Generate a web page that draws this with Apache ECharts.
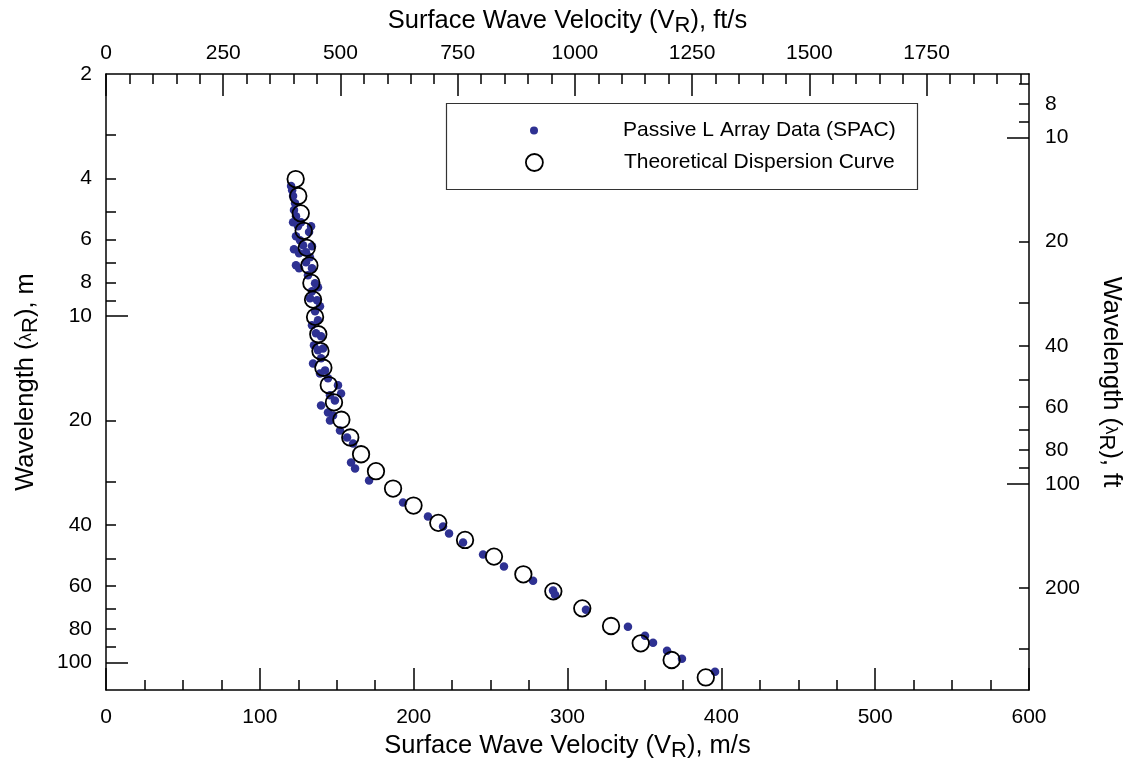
<!DOCTYPE html>
<html>
<head>
<meta charset="utf-8">
<script src="https://cdn.jsdelivr.net/npm/echarts@6/dist/echarts.min.js"></script>
<style>
  html, body { margin: 0; padding: 0; background: #fff; }
  #chart { width: 1133px; height: 759px; }
</style>
</head>
<body>
<div id="chart"></div>
<script>
// Theoretical dispersion curve: velocity (m/s) and wavelength (m)
const velocityTheory = [123.3, 125.0, 126.6, 128.5, 130.5, 132.2, 133.5, 134.6, 135.9, 138.0,
  139.4, 141.3, 144.8, 148.2, 153.0, 158.8, 165.8, 175.5, 186.6, 199.9,
  216.0, 233.4, 252.2, 271.3, 290.8, 309.6, 328.3, 347.6, 367.7, 389.9];
const wavelengthTheory = [4.02, 4.50, 5.05, 5.67, 6.35, 7.14, 8.02, 8.96, 10.05, 11.28,
  12.61, 14.09, 15.81, 17.74, 19.91, 22.40, 25.04, 28.03, 31.45, 35.22,
  39.51, 44.26, 49.45, 55.62, 62.29, 69.74, 78.43, 88.00, 98.31, 110.4];

// Passive L array (SPAC) measurements: velocity (m/s) and wavelength (m)
const velocitySpac = [120.3, 121.0, 121.6, 122.9, 122.2, 123.5, 121.6, 124.8, 126.8, 133.3,
  132.0, 123.5, 126.1, 128.1, 122.2, 125.5, 130.0, 133.9, 132.6, 123.5,
  125.5, 130.0, 133.9, 131.3, 135.9, 133.9, 137.8, 132.6, 137.2, 139.1,
  135.9, 137.8, 133.9, 136.5, 139.8, 135.2, 137.8, 141.1, 134.6, 139.1,
  142.4, 139.8, 144.3, 150.8, 152.8, 145.6, 148.8, 139.8, 144.3, 145.6,
  147.6, 152.1, 156.7, 160.6, 159.3, 161.9, 171.0, 193.1, 209.3, 219.1,
  223.0, 232.1, 245.1, 258.7, 277.6, 290.6, 291.9, 312.0, 339.3, 350.4,
  355.6, 364.7, 374.4, 395.9];
const wavelengthSpac = [4.21, 4.33, 4.50, 4.72, 4.94, 5.15, 5.36, 5.50, 5.36, 5.50,
  5.72, 5.88, 6.04, 6.24, 6.41, 6.58, 6.54, 6.28, 6.76, 7.13,
  7.27, 6.99, 7.27, 7.62, 8.04, 8.48, 8.25, 8.88, 9.00, 9.37,
  9.68, 10.28, 10.63, 11.21, 11.43, 12.14, 12.55, 12.39, 13.69, 14.63,
  14.34, 13.24, 15.12, 15.84, 16.71, 16.93, 17.51, 18.10, 18.96, 20.0,
  19.34, 21.38, 22.40, 23.31, 26.45, 27.52, 29.82, 34.51, 37.90, 40.50,
  42.42, 45.04, 48.79, 52.84, 58.01, 61.99, 63.69, 70.34, 78.78, 83.64,
  87.62, 92.40, 97.48, 106.3];

// Axis ranges and ticks
const FT_PER_M = 3.28084;
const velocityRange = [0, 600];            // m/s
const wavelengthRange = [2, 120];          // m
const topTickLabels = [0, 250, 500, 750, 1000, 1250, 1500, 1750];            // ft/s
const topMinorStep = 50;                                                      // ft/s
const leftTickLabels = [2, 4, 6, 8, 10, 20, 40, 60, 80, 100];                 // m
const leftMajorTicks = [10, 100];
const leftMinorTicks = [3, 4, 5, 6, 7, 8, 9, 20, 30, 40, 50, 60, 70, 80, 90];
const rightTickLabels = [8, 10, 20, 40, 60, 80, 100, 200];                    // ft
const rightMajorTicks = [10, 100];
const rightMinorTicks = [7, 8, 9, 20, 30, 40, 50, 60, 70, 80, 90, 200, 300];

const SERIES_SPAC = 'Passive L Array Data (SPAC)';
const SERIES_THEORY = 'Theoretical Dispersion Curve';

const FONT = '"Liberation Sans", Arial, Helvetica, sans-serif';
const black = '#000';
const lineStyle = { color: black, width: 1.5 };
const labelStyle = { color: black, fontSize: 21, fontFamily: FONT, formatter: v => String(Math.round(v)) };
const nameStyle = {
  color: black, fontSize: 25.5, fontFamily: FONT,
  rich: {
    sub: { color: black, fontSize: 22, fontFamily: FONT, padding: [10, 0, 0, 0] },
    lam: { color: black, fontSize: 17, fontFamily: FONT }
  }
};

const ftMax = velocityRange[1] * FT_PER_M;
const topMinorTicks = [];
for (let v = 0; v <= ftMax; v += topMinorStep) topMinorTicks.push(v);
const ftRange = [wavelengthRange[0] * FT_PER_M, wavelengthRange[1] * FT_PER_M];

const spacPoints = velocitySpac.map((v, i) => [v, wavelengthSpac[i]]);
const theoryPoints = velocityTheory.map((v, i) => [v, wavelengthTheory[i]]);

const hidden = { show: false };
const shownLine = { show: true, onZero: false, lineStyle };
const noLine = { show: false, onZero: false };

const chart = echarts.init(document.getElementById('chart'), null, { renderer: 'canvas' });
chart.setOption({
  animation: false,
  backgroundColor: '#fff',
  grid: { left: 106, right: 104, top: 74, bottom: 69, containLabel: false, outerBoundsMode: 'none' },
  xAxis: [
    {
      type: 'value', position: 'bottom', min: velocityRange[0], max: velocityRange[1], interval: 100,
      axisLine: shownLine,
      axisTick: { show: true, inside: true, length: 22, lineStyle },
      minorTick: { show: true, splitNumber: 4, length: 10, lineStyle },
      splitLine: hidden, minorSplitLine: hidden,
      axisLabel: Object.assign({ margin: 17 }, labelStyle),
      name: 'Surface Wave Velocity (V{sub|R}), m/s',
      nameLocation: 'middle', nameGap: 40, nameTextStyle: nameStyle
    },
    {
      type: 'value', position: 'top', min: 0, max: ftMax,
      axisLine: shownLine,
      axisTick: { show: true, inside: true, length: 22, lineStyle, customValues: topTickLabels },
      axisLabel: Object.assign({ margin: 10, customValues: topTickLabels }, labelStyle),
      splitLine: hidden,
      name: 'Surface Wave Velocity (V{sub|R}), ft/s',
      nameLocation: 'middle', nameGap: 37, nameTextStyle: nameStyle
    },
    {
      type: 'value', position: 'top', min: 0, max: ftMax,
      axisLine: noLine,
      axisTick: { show: true, inside: true, length: 10, lineStyle, customValues: topMinorTicks },
      axisLabel: hidden, splitLine: hidden
    }
  ],
  yAxis: [
    {
      type: 'log', logBase: 10, position: 'left', inverse: true,
      min: wavelengthRange[0], max: wavelengthRange[1],
      axisLine: shownLine,
      axisTick: { show: true, inside: true, length: 22, lineStyle, customValues: leftMajorTicks },
      axisLabel: Object.assign({ margin: 14, customValues: leftTickLabels }, labelStyle),
      splitLine: hidden,
      name: 'Wavelength ({lam|λ}{sub|R}), m',
      nameLocation: 'middle', nameRotate: 90, nameGap: 64, nameTextStyle: nameStyle
    },
    {
      type: 'log', logBase: 10, position: 'left', inverse: true,
      min: wavelengthRange[0], max: wavelengthRange[1],
      axisLine: noLine,
      axisTick: { show: true, inside: true, length: 10, lineStyle, customValues: leftMinorTicks },
      axisLabel: hidden, splitLine: hidden
    },
    {
      type: 'log', logBase: 10, position: 'right', inverse: true,
      min: ftRange[0], max: ftRange[1],
      axisLine: shownLine,
      axisTick: { show: true, inside: true, length: 22, lineStyle, customValues: rightMajorTicks },
      axisLabel: Object.assign({ margin: 16, customValues: rightTickLabels }, labelStyle),
      splitLine: hidden,
      name: 'Wavelength ({lam|λ}{sub|R}), ft',
      nameLocation: 'middle', nameRotate: -90, nameGap: 66, nameTextStyle: nameStyle
    },
    {
      type: 'log', logBase: 10, position: 'right', inverse: true,
      min: ftRange[0], max: ftRange[1],
      axisLine: noLine,
      axisTick: { show: true, inside: true, length: 10, lineStyle, customValues: rightMinorTicks },
      axisLabel: hidden, splitLine: hidden
    }
  ],
  legend: [
    {
      data: [SERIES_SPAC], selectedMode: false, orient: 'vertical',
      left: 530, top: 120, padding: 0, itemWidth: 8, itemHeight: 8,
      textStyle: { color: black, fontSize: 21, fontFamily: FONT, padding: [0, 0, 0, 80] }
    },
    {
      data: [SERIES_THEORY], selectedMode: false, orient: 'vertical',
      left: 525, top: 152, padding: 0, itemWidth: 17, itemHeight: 17,
      itemStyle: { borderWidth: 1.8 },
      textStyle: { color: black, fontSize: 21, fontFamily: FONT, padding: [0, 0, 0, 76] }
    }
  ],
  graphic: [
    {
      type: 'rect', z: 5,
      shape: { x: 446.5, y: 103.5, width: 471, height: 86 },
      style: { fill: 'none', stroke: '#333', lineWidth: 1.2 }
    }
  ],
  series: [
    {
      name: SERIES_SPAC, type: 'scatter', xAxisIndex: 0, yAxisIndex: 0,
      data: spacPoints, symbol: 'circle', symbolSize: 8.5,
      itemStyle: { color: '#2E3192', opacity: 1 },
      emphasis: { disabled: true }, z: 2
    },
    {
      name: SERIES_THEORY, type: 'scatter', xAxisIndex: 0, yAxisIndex: 0,
      data: theoryPoints, symbol: 'circle', symbolSize: 16.5,
      itemStyle: { color: 'rgba(255,255,255,0)', borderColor: black, borderWidth: 1.8, opacity: 1 },
      emphasis: { disabled: true }, z: 3
    }
  ]
});
</script>
</body>
</html>
